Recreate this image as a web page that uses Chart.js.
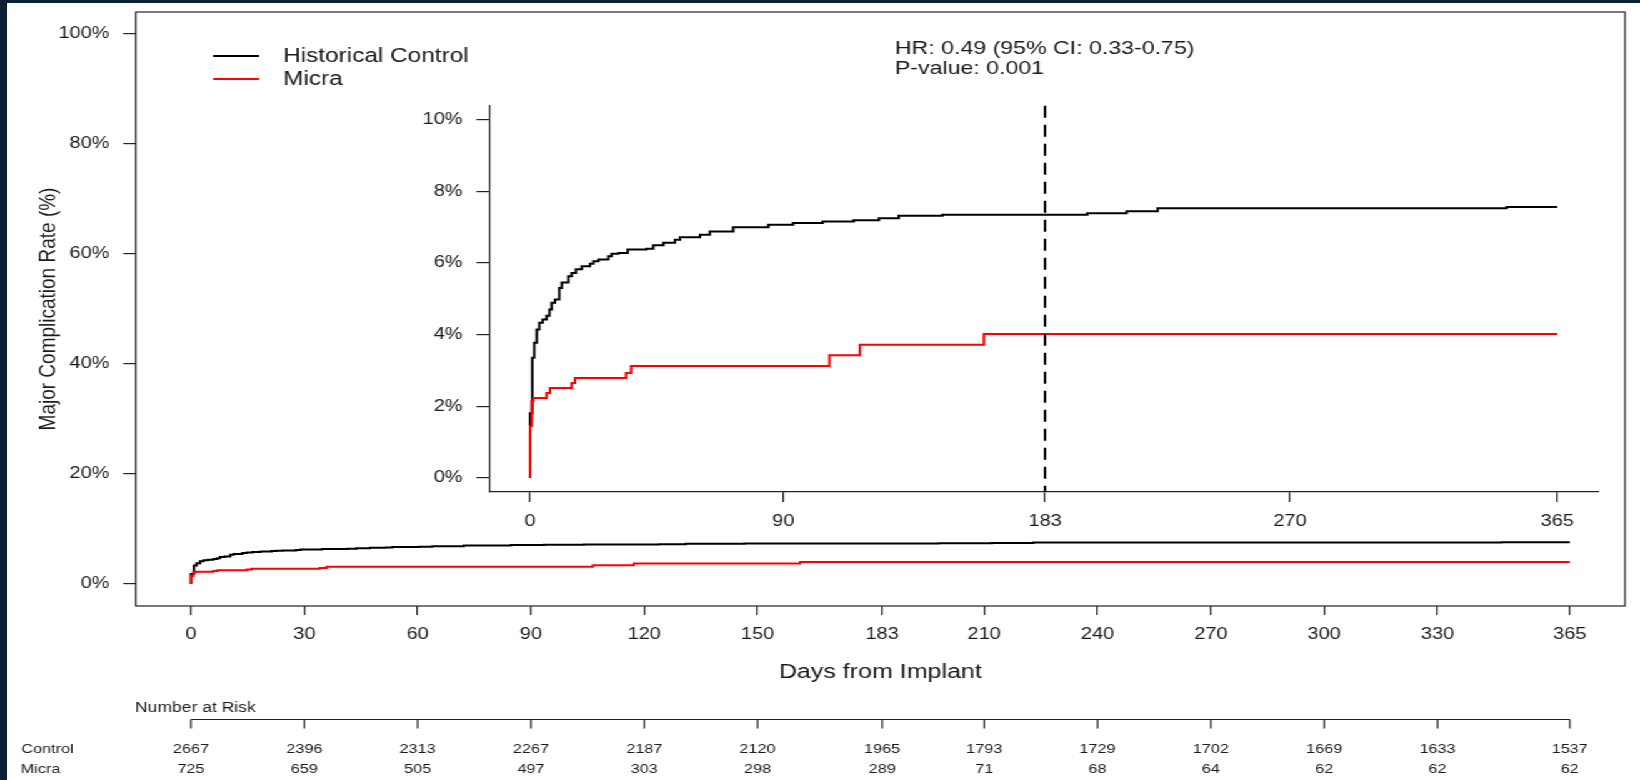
<!DOCTYPE html>
<html>
<head>
<meta charset="utf-8">
<script src="https://cdn.jsdelivr.net/npm/chart.js@4.4.1/dist/chart.umd.min.js"></script>
<style>
  html, body { margin: 0; padding: 0; background: #fff; }
  #page { position: relative; width: 1640px; height: 780px; overflow: hidden; background: #fff; }
  /* the source picture is stretched sideways, so draw narrow and stretch */
  #stretch { position: absolute; left: 0; top: 0; width: 1312px; height: 780px; transform: scaleX(1.25); transform-origin: 0 0; }
  #main { position: absolute; left: 0; top: 0; }
  #inset { position: absolute; left: 300px; top: 90px; }
  .edge { position: absolute; background: #0b2035; }
</style>
</head>
<body>
<div id="page">
  <div id="stretch">
    <canvas id="main" width="1312" height="780"></canvas>
    <canvas id="inset" width="1000" height="450"></canvas>
  </div>
  <div class="edge" style="left:0;top:0;width:7px;height:780px"></div>
  <div class="edge" style="left:0;top:0;width:1640px;height:3px"></div>
</div>
<script>
// Kaplan-Meier steps (day, cumulative rate %)
const controlDays = [0, 0, 0.8, 1.5, 2.4, 3.3, 4.5, 5.9, 6.9, 7.7, 8.9, 10.4, 11.3, 13.6, 14.8, 16.3, 18.4, 21.3, 22.5, 24.3, 27.8, 29, 31.4, 34.7, 41.4, 43.8, 47.4, 51.5, 53.3, 60.4, 63.9, 72.2, 84.7, 93.5, 104, 115, 124, 131, 146.5, 198, 212, 223, 347, 365];
const controlRate = [0, 1.8, 3.35, 3.77, 4.14, 4.33, 4.42, 4.53, 4.7, 4.89, 4.98, 5.3, 5.46, 5.63, 5.72, 5.83, 5.91, 5.98, 6.05, 6.1, 6.19, 6.26, 6.28, 6.38, 6.4, 6.5, 6.57, 6.65, 6.72, 6.79, 6.88, 7.0, 7.07, 7.12, 7.16, 7.2, 7.25, 7.32, 7.35, 7.39, 7.45, 7.53, 7.57, 7.57];
const micraDays = [0, 0, 0.6, 1.2, 5.9, 7.1, 14.8, 16, 34.1, 35.9, 106.4, 117.2, 161.3, 365];
const micraRate = [0, 1.44, 2.14, 2.23, 2.37, 2.51, 2.65, 2.79, 2.93, 3.12, 3.42, 3.72, 4.02, 4.02];

const mainTickDays = [0, 30, 60, 90, 120, 150, 183, 210, 240, 270, 300, 330, 365];
const insetTickDays = [0, 90, 183, 270, 365];
const mainRateTicks = [0, 20, 40, 60, 80, 100];
const insetRateTicks = [0, 2, 4, 6, 8, 10];
const landmarkDay = 183;

const riskControl = [2667, 2396, 2313, 2267, 2187, 2120, 1965, 1793, 1729, 1702, 1669, 1633, 1537];
const riskMicra = [725, 659, 505, 497, 303, 298, 289, 71, 68, 64, 62, 62, 62];

const hrText = 'HR: 0.49 (95% CI: 0.33-0.75)';
const pText = 'P-value: 0.001';

const FONT = '"Liberation Sans", Arial, sans-serif';
const INK = '#1a1a1a';

function points(days, rate) {
  return days.map((d, i) => ({ x: d, y: rate[i] }));
}

function makeDatasets() {
  return [
    { label: 'Historical Control', data: points(controlDays, controlRate), borderColor: '#000000', borderWidth: 2, stepped: true, pointRadius: 0, order: 2 },
    { label: 'Micra', data: points(micraDays, micraRate), borderColor: '#ff0000', borderWidth: 2, stepped: true, pointRadius: 0, order: 1 },
  ];
}

function fixTicks(values) {
  return scale => { scale.ticks = values.map(v => ({ value: v })); };
}

// fixed axis size, and no extra padding pushed into the layout
function fixSize(prop, size) {
  return scale => {
    scale[prop] = size;
    scale.paddingTop = 0;
    scale.paddingBottom = 0;
    scale.paddingLeft = 0;
    scale.paddingRight = 0;
  };
}

const mainExtras = {
  id: 'mainExtras',
  afterDraw(chart) {
    const ctx = chart.ctx;
    const a = chart.chartArea;
    const x = chart.scales.x;
    ctx.save();
    // box
    ctx.strokeStyle = '#222';
    ctx.lineWidth = 1.2;
    ctx.strokeRect(a.left, a.top, a.right - a.left, a.bottom - a.top);

    // legend
    ctx.lineWidth = 2;
    ctx.font = '19.5px ' + FONT;
    ctx.textBaseline = 'middle';
    ctx.textAlign = 'left';
    chart.data.datasets.forEach((ds, i) => {
      const y = 56 + i * 23;
      ctx.strokeStyle = ds.borderColor;
      ctx.beginPath();
      ctx.moveTo(170.4, y);
      ctx.lineTo(207.2, y);
      ctx.stroke();
      ctx.fillStyle = INK;
      ctx.fillText(ds.label, 226.4, y + 1);
    });

    // hazard ratio text
    ctx.font = '18.5px ' + FONT;
    ctx.fillText(hrText, 716, 49);
    ctx.fillText(pText, 716, 69);

    // axis titles
    ctx.font = '20px ' + FONT;
    ctx.textAlign = 'center';
    ctx.fillText('Days from Implant', (a.left + a.right) / 2, 672);
    ctx.save();
    ctx.translate(39, (a.top + a.bottom) / 2);
    ctx.rotate(-Math.PI / 2);
    ctx.font = '19px ' + FONT;
    ctx.fillText('Major Complication Rate (%)', 0, 0);
    ctx.restore();

    // number at risk table
    ctx.font = '14px ' + FONT;
    ctx.textAlign = 'left';
    ctx.fillText('Number at Risk', 108, 708);
    const x0 = x.getPixelForValue(mainTickDays[0]);
    const x1 = x.getPixelForValue(mainTickDays[mainTickDays.length - 1]);
    ctx.strokeStyle = '#222';
    ctx.lineWidth = 1.2;
    ctx.beginPath();
    ctx.moveTo(x0, 719.5);
    ctx.lineTo(x1, 719.5);
    mainTickDays.forEach(d => {
      const px = x.getPixelForValue(d);
      ctx.moveTo(px, 719.5);
      ctx.lineTo(px, 728.5);
    });
    ctx.stroke();
    ctx.font = '13px ' + FONT;
    ctx.fillText('Control', 17, 749);
    ctx.fillText('Micra', 16.5, 769);
    ctx.textAlign = 'center';
    mainTickDays.forEach((d, i) => {
      const px = x.getPixelForValue(d);
      ctx.fillText(String(riskControl[i]), px, 749);
      ctx.fillText(String(riskMicra[i]), px, 769);
    });
    ctx.restore();
  }
};

const insetExtras = {
  id: 'insetExtras',
  afterDatasetsDraw(chart) {
    const ctx = chart.ctx;
    const a = chart.chartArea;
    const px = chart.scales.x.getPixelForValue(landmarkDay);
    ctx.save();
    ctx.strokeStyle = '#000';
    ctx.lineWidth = 2;
    ctx.setLineDash([12, 7]);
    ctx.beginPath();
    ctx.moveTo(px, a.top);
    ctx.lineTo(px, a.bottom);
    ctx.stroke();
    ctx.restore();
  }
};

new Chart(document.getElementById('main'), {
  type: 'line',
  data: { datasets: makeDatasets() },
  options: {
    responsive: false,
    animation: false,
    layout: { autoPadding: false, padding: { left: 0, top: 12, right: 12, bottom: 0 } },
    plugins: { legend: { display: false }, tooltip: { enabled: false } },
    scales: {
      x: {
        type: 'linear', min: -14.6, max: 379.6,
        afterBuildTicks: fixTicks(mainTickDays),
        afterFit: fixSize('height', 174),
        grid: { drawOnChartArea: false, drawTicks: true, tickLength: 9, color: '#222', lineWidth: 1.2 },
        border: { display: false },
        ticks: { autoSkip: false, maxRotation: 0, padding: 10, color: INK, font: { family: FONT, size: 16 }, callback: v => String(v) }
      },
      y: {
        min: -4, max: 104,
        afterBuildTicks: fixTicks(mainRateTicks),
        afterFit: fixSize('width', 108.6),
        grid: { drawOnChartArea: false, drawTicks: true, tickLength: 10, color: '#222', lineWidth: 1.2 },
        border: { display: false },
        ticks: { padding: 11, color: INK, font: { family: FONT, size: 16 }, callback: v => v + '%' }
      }
    }
  },
  plugins: [mainExtras]
});

new Chart(document.getElementById('inset'), {
  type: 'line',
  data: { datasets: makeDatasets() },
  options: {
    responsive: false,
    animation: false,
    layout: { autoPadding: false, padding: { left: 0, top: 15.7, right: 21.2, bottom: 0 } },
    plugins: { legend: { display: false }, tooltip: { enabled: false } },
    scales: {
      x: {
        type: 'linear', min: -14.6, max: 379.6,
        afterBuildTicks: fixTicks(insetTickDays),
        afterFit: fixSize('height', 48),
        grid: { drawOnChartArea: false, drawTicks: true, tickLength: 10, color: '#222', lineWidth: 1.2 },
        border: { display: true, color: '#222', width: 1.2 },
        ticks: { autoSkip: false, maxRotation: 0, padding: 10, color: INK, font: { family: FONT, size: 16 }, callback: v => String(v) }
      },
      y: {
        min: -0.4, max: 10.4,
        afterBuildTicks: fixTicks(insetRateTicks),
        afterFit: fixSize('width', 91.1),
        grid: { drawOnChartArea: false, drawTicks: true, tickLength: 10, color: '#222', lineWidth: 1.2 },
        border: { display: true, color: '#222', width: 1.2 },
        ticks: { padding: 11, color: INK, font: { family: FONT, size: 16 }, callback: v => v + '%' }
      }
    }
  },
  plugins: [insetExtras]
});
</script>
</body>
</html>
